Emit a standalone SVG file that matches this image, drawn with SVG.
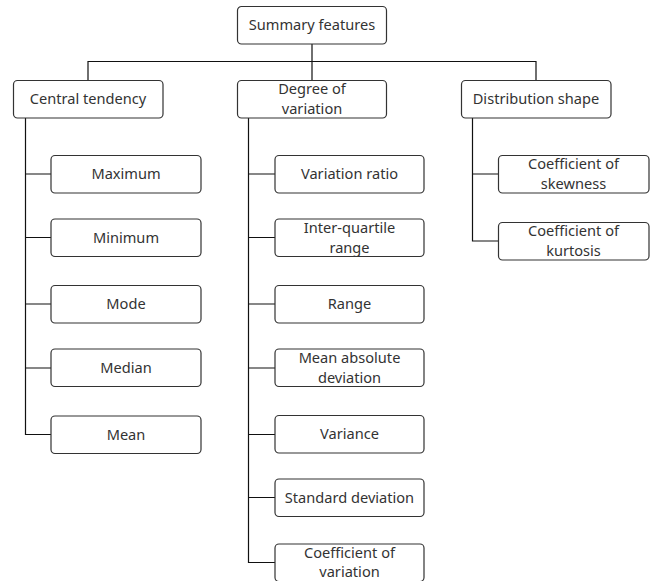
<svg xmlns="http://www.w3.org/2000/svg" width="656" height="581" viewBox="0 0 656 581">
<style>
rect{fill:#fff;stroke:#333;stroke-width:1.2}
text{font-family:"Noto Sans","Open Sans",sans-serif;font-size:14.6px;fill:#333;text-anchor:middle}
.c{fill:none;stroke:#111;stroke-width:1.2}
</style>
<rect x="0" y="0" width="656" height="581" style="stroke:none"/>
<g id="connectors" class="c">
<path class="c" d="M312,44V80M88,80V61.5H536V80"/>
<path class="c" d="M25.5,118V434.5H51M25.5,174H51M25.5,237.5H51M25.5,304H51M25.5,368H51"/>
<path class="c" d="M248.5,118V562.5H275M248.5,174H275M248.5,237.5H275M248.5,304H275M248.5,368H275M248.5,434.5H275M248.5,497.5H275"/>
<path class="c" d="M472.5,118V241H498M472.5,174H498"/>
</g>
<g id="summary"><rect x="237.5" y="6.5" width="149" height="37.5" rx="4"/><text x="312" y="30">Summary features</text></g>
<g id="central"><rect x="13.5" y="80.5" width="149.5" height="37.5" rx="4"/><text x="88" y="104">Central tendency</text></g>
<g id="degree"><rect x="237.5" y="80.5" width="149" height="37.5" rx="4"/><text x="312" y="94">Degree of</text><text x="312" y="114">variation</text></g>
<g id="distribution"><rect x="461.5" y="80.5" width="149.5" height="37.5" rx="4"/><text x="536" y="104">Distribution shape</text></g>
<g id="maximum"><rect x="51" y="155.5" width="150" height="37.5" rx="4"/><text x="126" y="179">Maximum</text></g>
<g id="minimum"><rect x="51" y="219" width="150" height="37.5" rx="4"/><text x="126" y="242.5">Minimum</text></g>
<g id="mode"><rect x="51" y="285.5" width="150" height="37.5" rx="4"/><text x="126" y="309">Mode</text></g>
<g id="median"><rect x="51" y="349" width="150" height="37.5" rx="4"/><text x="126" y="372.5">Median</text></g>
<g id="mean"><rect x="51" y="416" width="150" height="37.5" rx="4"/><text x="126" y="439.5">Mean</text></g>
<g id="variation-ratio"><rect x="275" y="155.5" width="149" height="37.5" rx="4"/><text x="349.5" y="179">Variation ratio</text></g>
<g id="iqr"><rect x="275" y="219" width="149" height="37.5" rx="4"/><text x="349.5" y="232.5">Inter-quartile</text><text x="349.5" y="252.5">range</text></g>
<g id="range"><rect x="275" y="285.5" width="149" height="37.5" rx="4"/><text x="349.5" y="309">Range</text></g>
<g id="mad"><rect x="275" y="349" width="149" height="37.5" rx="4"/><text x="349.5" y="362.5">Mean absolute</text><text x="349.5" y="382.5">deviation</text></g>
<g id="variance"><rect x="275" y="415.5" width="149" height="37.5" rx="4"/><text x="349.5" y="439">Variance</text></g>
<g id="sd"><rect x="275" y="479" width="149" height="37.5" rx="4"/><text x="349.5" y="502.5">Standard deviation</text></g>
<g id="cov"><rect x="275" y="544" width="149" height="37.5" rx="4"/><text x="349.5" y="557.5">Coefficient of</text><text x="349.5" y="577">variation</text></g>
<g id="skewness"><rect x="498.5" y="155.5" width="150.5" height="37.5" rx="4"/><text x="573.5" y="168.5">Coefficient of</text><text x="573.5" y="188.5">skewness</text></g>
<g id="kurtosis"><rect x="498.5" y="222.5" width="150.5" height="37.5" rx="4"/><text x="573.5" y="236">Coefficient of</text><text x="573.5" y="256">kurtosis</text></g>
</svg>
